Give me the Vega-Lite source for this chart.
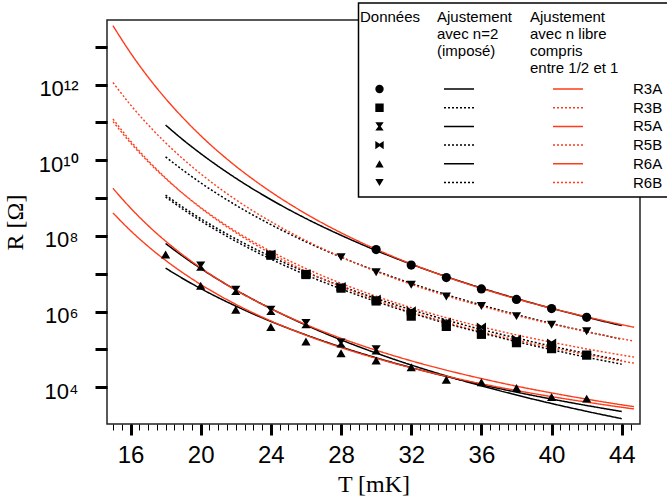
{
  "$schema": "https://vega.github.io/schema/vega-lite/v6.json",
  "width": 533,
  "height": 404,
  "autosize": {"type": "none"},
  "padding": {"left": 107, "top": 20, "right": 27, "bottom": 75},
  "background": "white",
  "config": {
    "view": {"stroke": "#222222", "strokeWidth": 1.5},
    "font": "Liberation Sans",
    "axis": {"grid": false},
    "legend": {
      "orient": "none",
      "padding": 0,
      "titleFont": "Liberation Sans",
      "titleFontSize": 15,
      "titleFontWeight": "normal",
      "titleColor": "black",
      "titleLineHeight": 17,
      "titleAlign": "left",
      "titleLimit": 300,
      "labelFont": "Liberation Sans",
      "labelFontSize": 15,
      "labelColor": "black",
      "rowPadding": 2.7
    }
  },
  "datasets": {
    "ajustements": [
      {"serie": "R3A", "fit": "n=2", "T": 18, "R": 8.51e10}, {"serie": "R3A", "fit": "n=2", "T": 19, "R": 3.44e10}, {"serie": "R3A", "fit": "n=2", "T": 20, "R": 1.50e10}, {"serie": "R3A", "fit": "n=2", "T": 22, "R": 3.36e9}, {"serie": "R3A", "fit": "n=2", "T": 24, "R": 9.10e8}, {"serie": "R3A", "fit": "n=2", "T": 26, "R": 2.88e8}, {"serie": "R3A", "fit": "n=2", "T": 28, "R": 1.04e8}, {"serie": "R3A", "fit": "n=2", "T": 30, "R": 4.12e7}, {"serie": "R3A", "fit": "n=2", "T": 32, "R": 1.79e7}, {"serie": "R3A", "fit": "n=2", "T": 34, "R": 8.38e6}, {"serie": "R3A", "fit": "n=2", "T": 36, "R": 4.19e6}, {"serie": "R3A", "fit": "n=2", "T": 38, "R": 2.21e6}, {"serie": "R3A", "fit": "n=2", "T": 40, "R": 1.22e6}, {"serie": "R3A", "fit": "n=2", "T": 42, "R": 7.08e5}, {"serie": "R3A", "fit": "n=2", "T": 44, "R": 4.26e5},
      {"serie": "R3B", "fit": "n=2", "T": 18, "R": 1.07e9}, {"serie": "R3B", "fit": "n=2", "T": 19, "R": 5.04e8}, {"serie": "R3B", "fit": "n=2", "T": 20, "R": 2.51e8}, {"serie": "R3B", "fit": "n=2", "T": 22, "R": 7.23e7}, {"serie": "R3B", "fit": "n=2", "T": 24, "R": 2.44e7}, {"serie": "R3B", "fit": "n=2", "T": 26, "R": 9.33e6}, {"serie": "R3B", "fit": "n=2", "T": 28, "R": 3.97e6}, {"serie": "R3B", "fit": "n=2", "T": 30, "R": 1.84e6}, {"serie": "R3B", "fit": "n=2", "T": 32, "R": 9.20e5}, {"serie": "R3B", "fit": "n=2", "T": 34, "R": 4.89e5}, {"serie": "R3B", "fit": "n=2", "T": 36, "R": 2.74e5}, {"serie": "R3B", "fit": "n=2", "T": 38, "R": 1.61e5}, {"serie": "R3B", "fit": "n=2", "T": 40, "R": 9.84e4}, {"serie": "R3B", "fit": "n=2", "T": 42, "R": 6.22e4}, {"serie": "R3B", "fit": "n=2", "T": 44, "R": 4.07e4},
      {"serie": "R5A", "fit": "n=2", "T": 18, "R": 6.31e7}, {"serie": "R5A", "fit": "n=2", "T": 19, "R": 2.86e7}, {"serie": "R5A", "fit": "n=2", "T": 20, "R": 1.38e7}, {"serie": "R5A", "fit": "n=2", "T": 22, "R": 3.74e6}, {"serie": "R5A", "fit": "n=2", "T": 24, "R": 1.20e6}, {"serie": "R5A", "fit": "n=2", "T": 26, "R": 4.39e5}, {"serie": "R5A", "fit": "n=2", "T": 28, "R": 1.79e5}, {"serie": "R5A", "fit": "n=2", "T": 30, "R": 8.02e4}, {"serie": "R5A", "fit": "n=2", "T": 32, "R": 3.87e4}, {"serie": "R5A", "fit": "n=2", "T": 34, "R": 2.00e4}, {"serie": "R5A", "fit": "n=2", "T": 36, "R": 1.09e4}, {"serie": "R5A", "fit": "n=2", "T": 38, "R": 6.24e3}, {"serie": "R5A", "fit": "n=2", "T": 40, "R": 3.72e3}, {"serie": "R5A", "fit": "n=2", "T": 42, "R": 2.31e3}, {"serie": "R5A", "fit": "n=2", "T": 44, "R": 1.48e3},
      {"serie": "R5B", "fit": "n=2", "T": 18, "R": 1.20e9}, {"serie": "R5B", "fit": "n=2", "T": 19, "R": 5.70e8}, {"serie": "R5B", "fit": "n=2", "T": 20, "R": 2.86e8}, {"serie": "R5B", "fit": "n=2", "T": 22, "R": 8.36e7}, {"serie": "R5B", "fit": "n=2", "T": 24, "R": 2.85e7}, {"serie": "R5B", "fit": "n=2", "T": 26, "R": 1.10e7}, {"serie": "R5B", "fit": "n=2", "T": 28, "R": 4.74e6}, {"serie": "R5B", "fit": "n=2", "T": 30, "R": 2.22e6}, {"serie": "R5B", "fit": "n=2", "T": 32, "R": 1.12e6}, {"serie": "R5B", "fit": "n=2", "T": 34, "R": 5.98e5}, {"serie": "R5B", "fit": "n=2", "T": 36, "R": 3.37e5}, {"serie": "R5B", "fit": "n=2", "T": 38, "R": 2.00e5}, {"serie": "R5B", "fit": "n=2", "T": 40, "R": 1.22e5}, {"serie": "R5B", "fit": "n=2", "T": 42, "R": 7.80e4}, {"serie": "R5B", "fit": "n=2", "T": 44, "R": 5.13e4},
      {"serie": "R6A", "fit": "n=2", "T": 18, "R": 1.41e7}, {"serie": "R6A", "fit": "n=2", "T": 19, "R": 7.38e6}, {"serie": "R6A", "fit": "n=2", "T": 20, "R": 4.06e6}, {"serie": "R6A", "fit": "n=2", "T": 22, "R": 1.40e6}, {"serie": "R6A", "fit": "n=2", "T": 24, "R": 5.50e5}, {"serie": "R6A", "fit": "n=2", "T": 26, "R": 2.42e5}, {"serie": "R6A", "fit": "n=2", "T": 28, "R": 1.16e5}, {"serie": "R6A", "fit": "n=2", "T": 30, "R": 6.01e4}, {"serie": "R6A", "fit": "n=2", "T": 32, "R": 3.31e4}, {"serie": "R6A", "fit": "n=2", "T": 34, "R": 1.93e4}, {"serie": "R6A", "fit": "n=2", "T": 36, "R": 1.17e4}, {"serie": "R6A", "fit": "n=2", "T": 38, "R": 7.43e3}, {"serie": "R6A", "fit": "n=2", "T": 40, "R": 4.88e3}, {"serie": "R6A", "fit": "n=2", "T": 42, "R": 3.30e3}, {"serie": "R6A", "fit": "n=2", "T": 44, "R": 2.29e3},
      {"serie": "R6B", "fit": "n=2", "T": 18, "R": 1.23e10}, {"serie": "R6B", "fit": "n=2", "T": 19, "R": 5.41e9}, {"serie": "R6B", "fit": "n=2", "T": 20, "R": 2.53e9}, {"serie": "R6B", "fit": "n=2", "T": 22, "R": 6.50e8}, {"serie": "R6B", "fit": "n=2", "T": 24, "R": 1.99e8}, {"serie": "R6B", "fit": "n=2", "T": 26, "R": 6.97e7}, {"serie": "R6B", "fit": "n=2", "T": 28, "R": 2.75e7}, {"serie": "R6B", "fit": "n=2", "T": 30, "R": 1.19e7}, {"serie": "R6B", "fit": "n=2", "T": 32, "R": 5.57e6}, {"serie": "R6B", "fit": "n=2", "T": 34, "R": 2.80e6}, {"serie": "R6B", "fit": "n=2", "T": 36, "R": 1.49e6}, {"serie": "R6B", "fit": "n=2", "T": 38, "R": 8.32e5}, {"serie": "R6B", "fit": "n=2", "T": 40, "R": 4.86e5}, {"serie": "R6B", "fit": "n=2", "T": 42, "R": 2.96e5}, {"serie": "R6B", "fit": "n=2", "T": 44, "R": 1.86e5},
      {"serie": "R3A", "fit": "libre", "T": 15, "R": 3.59e13}, {"serie": "R3A", "fit": "libre", "T": 16, "R": 6.87e12}, {"serie": "R3A", "fit": "libre", "T": 17, "R": 1.58e12}, {"serie": "R3A", "fit": "libre", "T": 18, "R": 4.26e11}, {"serie": "R3A", "fit": "libre", "T": 20, "R": 4.47e10}, {"serie": "R3A", "fit": "libre", "T": 22, "R": 6.97e9}, {"serie": "R3A", "fit": "libre", "T": 24, "R": 1.46e9}, {"serie": "R3A", "fit": "libre", "T": 26, "R": 3.84e8}, {"serie": "R3A", "fit": "libre", "T": 28, "R": 1.21e8}, {"serie": "R3A", "fit": "libre", "T": 30, "R": 4.43e7}, {"serie": "R3A", "fit": "libre", "T": 32, "R": 1.82e7}, {"serie": "R3A", "fit": "libre", "T": 34, "R": 8.30e6}, {"serie": "R3A", "fit": "libre", "T": 36, "R": 4.10e6}, {"serie": "R3A", "fit": "libre", "T": 38, "R": 2.17e6}, {"serie": "R3A", "fit": "libre", "T": 40, "R": 1.22e6}, {"serie": "R3A", "fit": "libre", "T": 42, "R": 7.28e5}, {"serie": "R3A", "fit": "libre", "T": 44, "R": 4.52e5}, {"serie": "R3A", "fit": "libre", "T": 44.7, "R": 3.86e5},
      {"serie": "R3B", "fit": "libre", "T": 15, "R": 1.23e11}, {"serie": "R3B", "fit": "libre", "T": 16, "R": 3.23e10}, {"serie": "R3B", "fit": "libre", "T": 17, "R": 9.84e9}, {"serie": "R3B", "fit": "libre", "T": 18, "R": 3.40e9}, {"serie": "R3B", "fit": "libre", "T": 20, "R": 5.47e8}, {"serie": "R3B", "fit": "libre", "T": 22, "R": 1.22e8}, {"serie": "R3B", "fit": "libre", "T": 24, "R": 3.43e7}, {"serie": "R3B", "fit": "libre", "T": 26, "R": 1.16e7}, {"serie": "R3B", "fit": "libre", "T": 28, "R": 4.56e6}, {"serie": "R3B", "fit": "libre", "T": 30, "R": 2.02e6}, {"serie": "R3B", "fit": "libre", "T": 32, "R": 9.82e5}, {"serie": "R3B", "fit": "libre", "T": 34, "R": 5.20e5}, {"serie": "R3B", "fit": "libre", "T": 36, "R": 2.94e5}, {"serie": "R3B", "fit": "libre", "T": 38, "R": 1.76e5}, {"serie": "R3B", "fit": "libre", "T": 40, "R": 1.11e5}, {"serie": "R3B", "fit": "libre", "T": 42, "R": 7.26e4}, {"serie": "R3B", "fit": "libre", "T": 44, "R": 4.93e4}, {"serie": "R3B", "fit": "libre", "T": 44.7, "R": 4.35e4},
      {"serie": "R5A", "fit": "libre", "T": 15, "R": 1.81e9}, {"serie": "R5A", "fit": "libre", "T": 16, "R": 5.47e8}, {"serie": "R5A", "fit": "libre", "T": 17, "R": 1.88e8}, {"serie": "R5A", "fit": "libre", "T": 18, "R": 7.29e7}, {"serie": "R5A", "fit": "libre", "T": 20, "R": 1.43e7}, {"serie": "R5A", "fit": "libre", "T": 22, "R": 3.72e6}, {"serie": "R5A", "fit": "libre", "T": 24, "R": 1.20e6}, {"serie": "R5A", "fit": "libre", "T": 26, "R": 4.55e5}, {"serie": "R5A", "fit": "libre", "T": 28, "R": 1.97e5}, {"serie": "R5A", "fit": "libre", "T": 30, "R": 9.53e4}, {"serie": "R5A", "fit": "libre", "T": 32, "R": 5.00e4}, {"serie": "R5A", "fit": "libre", "T": 34, "R": 2.83e4}, {"serie": "R5A", "fit": "libre", "T": 36, "R": 1.70e4}, {"serie": "R5A", "fit": "libre", "T": 38, "R": 1.07e4}, {"serie": "R5A", "fit": "libre", "T": 40, "R": 7.10e3}, {"serie": "R5A", "fit": "libre", "T": 42, "R": 4.86e3}, {"serie": "R5A", "fit": "libre", "T": 44, "R": 3.44e3}, {"serie": "R5A", "fit": "libre", "T": 44.7, "R": 3.08e3},
      {"serie": "R5B", "fit": "libre", "T": 15, "R": 1.05e11}, {"serie": "R5B", "fit": "libre", "T": 16, "R": 2.88e10}, {"serie": "R5B", "fit": "libre", "T": 17, "R": 9.16e9}, {"serie": "R5B", "fit": "libre", "T": 18, "R": 3.29e9}, {"serie": "R5B", "fit": "libre", "T": 20, "R": 5.65e8}, {"serie": "R5B", "fit": "libre", "T": 22, "R": 1.32e8}, {"serie": "R5B", "fit": "libre", "T": 24, "R": 3.90e7}, {"serie": "R5B", "fit": "libre", "T": 26, "R": 1.37e7}, {"serie": "R5B", "fit": "libre", "T": 28, "R": 5.58e6}, {"serie": "R5B", "fit": "libre", "T": 30, "R": 2.54e6}, {"serie": "R5B", "fit": "libre", "T": 32, "R": 1.27e6}, {"serie": "R5B", "fit": "libre", "T": 34, "R": 6.89e5}, {"serie": "R5B", "fit": "libre", "T": 36, "R": 3.97e5}, {"serie": "R5B", "fit": "libre", "T": 38, "R": 2.42e5}, {"serie": "R5B", "fit": "libre", "T": 40, "R": 1.55e5}, {"serie": "R5B", "fit": "libre", "T": 42, "R": 1.03e5}, {"serie": "R5B", "fit": "libre", "T": 44, "R": 7.10e4}, {"serie": "R5B", "fit": "libre", "T": 44.7, "R": 6.27e4},
      {"serie": "R6A", "fit": "libre", "T": 15, "R": 4.05e8}, {"serie": "R6A", "fit": "libre", "T": 16, "R": 1.38e8}, {"serie": "R6A", "fit": "libre", "T": 17, "R": 5.31e7}, {"serie": "R6A", "fit": "libre", "T": 18, "R": 2.26e7}, {"serie": "R6A", "fit": "libre", "T": 20, "R": 5.22e6}, {"serie": "R6A", "fit": "libre", "T": 22, "R": 1.56e6}, {"serie": "R6A", "fit": "libre", "T": 24, "R": 5.66e5}, {"serie": "R6A", "fit": "libre", "T": 26, "R": 2.38e5}, {"serie": "R6A", "fit": "libre", "T": 28, "R": 1.12e5}, {"serie": "R6A", "fit": "libre", "T": 30, "R": 5.83e4}, {"serie": "R6A", "fit": "libre", "T": 32, "R": 3.27e4}, {"serie": "R6A", "fit": "libre", "T": 34, "R": 1.96e4}, {"serie": "R6A", "fit": "libre", "T": 36, "R": 1.24e4}, {"serie": "R6A", "fit": "libre", "T": 38, "R": 8.22e3}, {"serie": "R6A", "fit": "libre", "T": 40, "R": 5.66e3}, {"serie": "R6A", "fit": "libre", "T": 42, "R": 4.05e3}, {"serie": "R6A", "fit": "libre", "T": 44, "R": 2.96e3}, {"serie": "R6A", "fit": "libre", "T": 44.7, "R": 2.68e3},
      {"serie": "R6B", "fit": "libre", "T": 15, "R": 1.13e12}, {"serie": "R6B", "fit": "libre", "T": 16, "R": 2.90e11}, {"serie": "R6B", "fit": "libre", "T": 17, "R": 8.63e10}, {"serie": "R6B", "fit": "libre", "T": 18, "R": 2.89e10}, {"serie": "R6B", "fit": "libre", "T": 20, "R": 4.38e9}, {"serie": "R6B", "fit": "libre", "T": 22, "R": 9.06e8}, {"serie": "R6B", "fit": "libre", "T": 24, "R": 2.38e8}, {"serie": "R6B", "fit": "libre", "T": 26, "R": 7.52e7}, {"serie": "R6B", "fit": "libre", "T": 28, "R": 2.77e7}, {"serie": "R6B", "fit": "libre", "T": 30, "R": 1.15e7}, {"serie": "R6B", "fit": "libre", "T": 32, "R": 5.25e6}, {"serie": "R6B", "fit": "libre", "T": 34, "R": 2.61e6}, {"serie": "R6B", "fit": "libre", "T": 36, "R": 1.40e6}, {"serie": "R6B", "fit": "libre", "T": 38, "R": 7.91e5}, {"serie": "R6B", "fit": "libre", "T": 40, "R": 4.71e5}, {"serie": "R6B", "fit": "libre", "T": 42, "R": 2.94e5}, {"serie": "R6B", "fit": "libre", "T": 44, "R": 1.91e5}, {"serie": "R6B", "fit": "libre", "T": 44.7, "R": 1.66e5}
    ],
    "mesures": [
      {"serie": "R3A", "T": 30, "R": 4.37e7}, {"serie": "R3A", "T": 32, "R": 1.70e7}, {"serie": "R3A", "T": 34, "R": 7.94e6}, {"serie": "R3A", "T": 36, "R": 3.98e6}, {"serie": "R3A", "T": 38, "R": 2.09e6}, {"serie": "R3A", "T": 40, "R": 1.20e6}, {"serie": "R3A", "T": 42, "R": 7.08e5},
      {"serie": "R6B", "T": 28, "R": 2.75e7}, {"serie": "R6B", "T": 30, "R": 1.10e7}, {"serie": "R6B", "T": 32, "R": 5.13e6}, {"serie": "R6B", "T": 34, "R": 2.51e6}, {"serie": "R6B", "T": 36, "R": 1.41e6}, {"serie": "R6B", "T": 38, "R": 7.59e5}, {"serie": "R6B", "T": 40, "R": 4.47e5}, {"serie": "R6B", "T": 42, "R": 3.02e5},
      {"serie": "R3B", "T": 24, "R": 3.09e7}, {"serie": "R3B", "T": 26, "R": 9.55e6}, {"serie": "R3B", "T": 28, "R": 4.17e6}, {"serie": "R3B", "T": 30, "R": 1.91e6}, {"serie": "R3B", "T": 32, "R": 7.59e5}, {"serie": "R3B", "T": 34, "R": 4.07e5}, {"serie": "R3B", "T": 36, "R": 2.51e5}, {"serie": "R3B", "T": 38, "R": 1.51e5}, {"serie": "R3B", "T": 40, "R": 1.05e5}, {"serie": "R3B", "T": 42, "R": 7.08e4},
      {"serie": "R5B", "T": 24, "R": 3.31e7}, {"serie": "R5B", "T": 26, "R": 1.00e7}, {"serie": "R5B", "T": 28, "R": 4.57e6}, {"serie": "R5B", "T": 30, "R": 2.14e6}, {"serie": "R5B", "T": 32, "R": 1.05e6}, {"serie": "R5B", "T": 34, "R": 5.25e5}, {"serie": "R5B", "T": 36, "R": 3.89e5}, {"serie": "R5B", "T": 38, "R": 1.86e5}, {"serie": "R5B", "T": 40, "R": 1.48e5},
      {"serie": "R5A", "T": 20, "R": 1.58e7}, {"serie": "R5A", "T": 22, "R": 3.63e6}, {"serie": "R5A", "T": 24, "R": 1.07e6}, {"serie": "R5A", "T": 26, "R": 4.79e5}, {"serie": "R5A", "T": 28, "R": 1.48e5}, {"serie": "R5A", "T": 30, "R": 9.77e4},
      {"serie": "R6A", "T": 18, "R": 3.24e7}, {"serie": "R6A", "T": 20, "R": 4.79e6}, {"serie": "R6A", "T": 22, "R": 1.12e6}, {"serie": "R6A", "T": 24, "R": 3.89e5}, {"serie": "R6A", "T": 26, "R": 1.62e5}, {"serie": "R6A", "T": 28, "R": 7.94e4}, {"serie": "R6A", "T": 30, "R": 5.13e4}, {"serie": "R6A", "T": 32, "R": 3.39e4}, {"serie": "R6A", "T": 34, "R": 1.58e4}, {"serie": "R6A", "T": 36, "R": 1.35e4}, {"serie": "R6A", "T": 38, "R": 9.55e3}, {"serie": "R6A", "T": 40, "R": 5.50e3}, {"serie": "R6A", "T": 42, "R": 5.01e3}
    ]
  },
  "layer": [
    {
      "data": {"name": "ajustements"},
      "transform": [{"filter": "datum.fit == 'n=2'"}],
      "mark": {"type": "line", "color": "black", "strokeWidth": 1.5, "interpolate": "monotone", "clip": true},
      "encoding": {
        "x": {
          "field": "T", "type": "quantitative",
          "scale": {"domain": [14.66, 45.04], "nice": false, "zero": false},
          "axis": {
            "orient": "bottom",
            "values": [15, 15.5, 16, 16.5, 17, 17.5, 18, 18.5, 19, 19.5, 20, 20.5, 21, 21.5, 22, 22.5, 23, 23.5, 24, 24.5, 25, 25.5, 26, 26.5, 27, 27.5, 28, 28.5, 29, 29.5, 30, 30.5, 31, 31.5, 32, 32.5, 33, 33.5, 34, 34.5, 35, 35.5, 36, 36.5, 37, 37.5, 38, 38.5, 39, 39.5, 40, 40.5, 41, 41.5, 42, 42.5, 43, 43.5, 44, 44.5],
            "tickSize": 6, "tickWidth": 1, "tickColor": "black",
            "labels": false, "domain": false, "title": null, "grid": false
          }
        },
        "y": {
          "field": "R", "type": "quantitative",
          "scale": {"type": "log", "domain": [1070, 5.08e13], "nice": false},
          "axis": {
            "values": [1e4, 1e5, 1e6, 1e7, 1e8, 1e9, 1e10, 1e11, 1e12, 1e13],
            "labelExpr": "datum.value === 10000 ? '10⁴' : datum.value === 1000000 ? '10⁶' : datum.value === 100000000 ? '10⁸' : datum.value === 10000000000 ? '10¹⁰' : datum.value === 1000000000000 ? '10¹²' : ''",
            "tickSize": 12, "tickWidth": 3, "tickColor": "black",
            "domain": false, "grid": false,
            "labelFont": "Liberation Sans", "labelFontSize": 22, "labelColor": "black",
            "labelPadding": 17, "labelOffset": 4,
            "title": "R  [Ω]", "titleFont": "Liberation Serif", "titleFontSize": 24,
            "titleFontWeight": "normal", "titleColor": "black", "titlePadding": 11
          }
        },
        "strokeDash": {
          "field": "serie", "type": "nominal",
          "scale": {"domain": ["R3A", "R3B", "R5A", "R5B", "R6A", "R6B"], "range": [[1, 0], [2, 2], [1, 0], [2, 2], [1, 0], [2, 2]]},
          "legend": {
            "title": ["Ajustement", "\u00a0\u00a0\u00a0avec n=2", "\u00a0\u00a0(imposé)"],
            "legendX": 330, "legendY": -10, "titlePadding": 22,
            "symbolType": "stroke", "symbolSize": 900, "symbolStrokeColor": "black", "symbolStrokeWidth": 1.5,
            "symbolOffset": 6, "labelExpr": "''", "clipHeight": 16, "zindex": 2
          }
        }
      }
    },
    {
      "data": {"name": "ajustements"},
      "transform": [{"filter": "datum.fit == 'libre'"}],
      "mark": {"type": "line", "color": "#ff3b1a", "strokeWidth": 1.4, "interpolate": "monotone", "clip": true},
      "encoding": {
        "x": {
          "field": "T", "type": "quantitative",
          "scale": {"domain": [14.66, 45.04], "nice": false, "zero": false},
          "axis": {
            "orient": "bottom",
            "values": [16, 20, 24, 28, 32, 36, 40, 44],
            "tickSize": 11, "tickWidth": 3, "tickColor": "black",
            "domain": false, "grid": false,
            "labelFont": "Liberation Sans", "labelFontSize": 24, "labelColor": "black", "labelPadding": 8,
            "title": "T [mK]", "titleFont": "Liberation Serif", "titleFontSize": 24,
            "titleFontWeight": "normal", "titleColor": "black", "titlePadding": 5
          }
        },
        "y": {
          "field": "R", "type": "quantitative",
          "scale": {"type": "log", "domain": [1070, 5.08e13], "nice": false}
        },
        "strokeDash": {
          "field": "serie", "type": "nominal",
          "scale": {"domain": ["R3A", "R3B", "R5A", "R5B", "R6A", "R6B"], "range": [[1, 0], [2, 2], [1, 0], [2, 2], [1, 0], [2, 2]]},
          "legend": {
            "title": ["Ajustement", "\u00a0\u00a0avec n libre", "\u00a0\u00a0\u00a0compris", "\u00a0\u00a0\u00a0entre 1/2 et 1"],
            "legendX": 423, "legendY": -10, "titlePadding": 5,
            "symbolType": "stroke", "symbolSize": 900, "symbolStrokeColor": "#ff3b1a", "symbolStrokeWidth": 1.5,
            "symbolOffset": 22, "labelOffset": 49, "clipHeight": 16, "zindex": 2
          }
        },
        "opacity": {
          "datum": "cadre", "type": "ordinal",
          "scale": {"range": [1]},
          "legend": {
            "title": null, "legendX": 245, "legendY": -17, "labelExpr": "''", "zindex": 1,
            "symbolType": "M-1,-7.5H500V186.5H-1Z", "symbolSize": 4,
            "symbolFillColor": "white", "symbolStrokeColor": "black", "symbolStrokeWidth": 1.5
          }
        }
      }
    },
    {
      "data": {"name": "mesures"},
      "mark": {"type": "point", "filled": true, "color": "black", "size": 85, "opacity": 1, "clip": true},
      "encoding": {
        "x": {
          "field": "T", "type": "quantitative",
          "scale": {"domain": [14.66, 45.04], "nice": false, "zero": false},
          "axis": null
        },
        "y": {
          "field": "R", "type": "quantitative",
          "scale": {"type": "log", "domain": [1070, 5.08e13], "nice": false}
        },
        "shape": {
          "field": "serie", "type": "nominal",
          "scale": {
            "domain": ["R3A", "R3B", "R5A", "R5B", "R6A", "R6B"],
            "range": ["circle", "square", "M-1,-1L1,-1L0.3,0L1,1L-1,1L-0.3,0Z", "M-1,-1L0,-0.3L1,-1L1,1L0,0.3L-1,1Z", "triangle-up", "triangle-down"]
          },
          "legend": {
            "title": "Données", "legendX": 253, "legendY": -10, "titlePadding": 56,
            "symbolSize": 70, "symbolFillColor": "black", "symbolStrokeWidth": 0,
            "symbolOffset": 12, "labelExpr": "''", "clipHeight": 16, "zindex": 2
          }
        }
      }
    }
  ],
  "resolve": {
    "scale": {"strokeDash": "independent"},
    "legend": {"strokeDash": "independent"},
    "axis": {"x": "independent"}
  }
}
